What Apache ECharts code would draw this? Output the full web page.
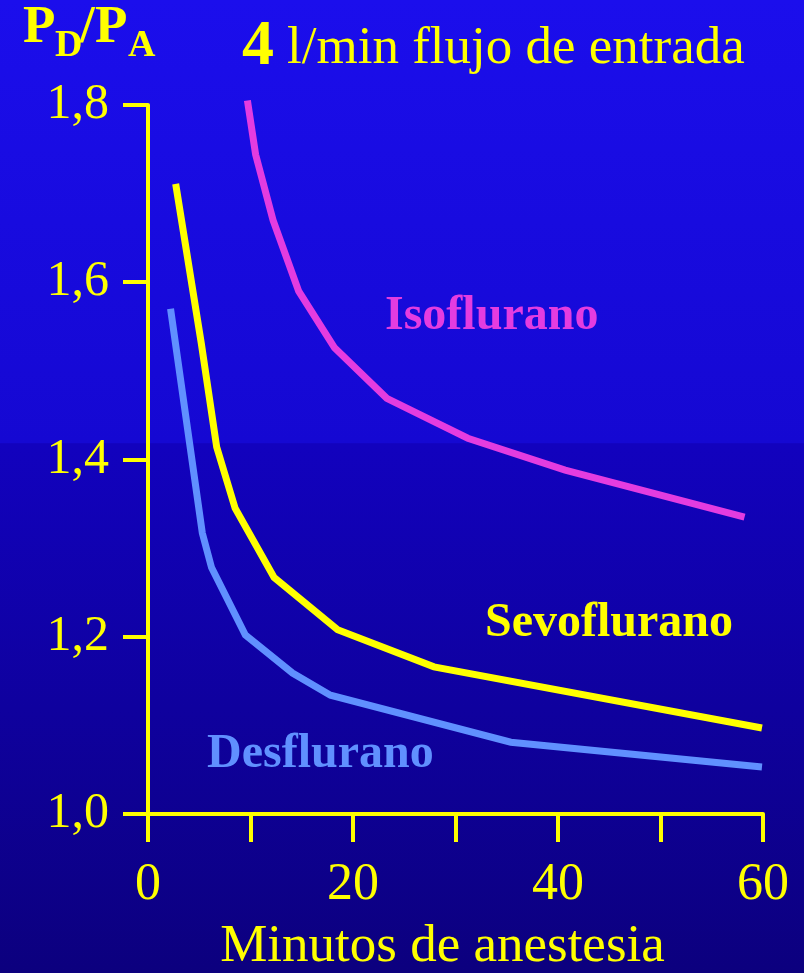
<!DOCTYPE html>
<html>
<head>
<meta charset="utf-8">
<script src="https://cdn.jsdelivr.net/npm/echarts@6/dist/echarts.min.js"></script>
<style>
  html, body { margin: 0; padding: 0; background: #0b0080; }
  #chart { width: 804px; height: 973px; }
</style>
</head>
<body>
<div id="chart"></div>
<script>
// ---- data ----
const isoMinutes  = [9.7, 10.5, 12.2, 14.7, 18.2, 23.3, 31.2, 40.7, 58.2];
const isoRatio    = [1.805, 1.744, 1.670, 1.590, 1.526, 1.469, 1.424, 1.388, 1.335];

const sevoMinutes = [2.7, 5.2, 6.7, 8.5, 12.3, 18.5, 27.9, 59.9];
const sevoRatio   = [1.711, 1.531, 1.414, 1.345, 1.267, 1.208, 1.166, 1.097];

const desMinutes  = [2.2, 5.3, 6.2, 9.5, 14.1, 17.8, 35.4, 59.9];
const desRatio    = [1.570, 1.317, 1.278, 1.202, 1.159, 1.134, 1.081, 1.053];

const xLabelValues = [0, 20, 40, 60];
const seriesNames  = ['Isoflurano', 'Sevoflurano', 'Desflurano'];

const YELLOW = '#ffff00';
const MAGENTA = '#e43ce0';
const LIGHTBLUE = '#6090ff';
const SERIF = '"Liberation Serif", "Times New Roman", serif';

function pairs(xs, ys) { return xs.map((x, i) => [x, ys[i]]); }

const chart = echarts.init(document.getElementById('chart'), null, { renderer: 'canvas' });

const lineStyleBase = { width: 7, cap: 'butt', join: 'miter' };

const option = {
  animation: false,
  backgroundColor: {
    type: 'linear', x: 0, y: 0, x2: 0, y2: 1,
    colorStops: [
      { offset: 0, color: '#1b0eec' },
      { offset: 0.455, color: '#1508d2' },
      { offset: 0.456, color: '#1202be' },
      { offset: 1, color: '#0c007e' }
    ]
  },
  grid: { left: 148, right: 41, top: 105, bottom: 159, containLabel: false, outerBoundsMode: 'none' },
  xAxis: {
    type: 'value',
    min: 0, max: 60, interval: 10,
    name: 'Minutos de anestesia',
    nameLocation: 'middle',
    nameGap: 107,
    nameTextStyle: { color: YELLOW, fontFamily: SERIF, fontSize: 53, padding: [0, 26, 0, 0] },
    axisLine: { show: true, onZero: false, lineStyle: { color: YELLOW, width: 4 } },
    axisTick: { show: true, inside: false, length: 28, lineStyle: { color: YELLOW, width: 4 } },
    axisLabel: {
      color: YELLOW, fontFamily: SERIF, fontSize: 52, margin: 45,
      formatter: v => xLabelValues.indexOf(v) >= 0 ? String(v) : ''
    },
    splitLine: { show: false }
  },
  yAxis: {
    type: 'value',
    min: 1.0, max: 1.8, interval: 0.2,
    axisLine: { show: true, onZero: false, lineStyle: { color: YELLOW, width: 4 } },
    axisTick: { show: true, inside: false, length: 25, lineStyle: { color: YELLOW, width: 4 } },
    axisLabel: {
      color: YELLOW, fontFamily: SERIF, fontSize: 50, margin: 39,
      formatter: v => v.toFixed(1).replace('.', ',')
    },
    splitLine: { show: false }
  },
  series: [
    { name: seriesNames[0], type: 'line', data: pairs(isoMinutes, isoRatio), showSymbol: false, symbol: 'none', clip: false,
      lineStyle: Object.assign({ color: MAGENTA }, lineStyleBase), itemStyle: { color: MAGENTA }, z: 3 },
    { name: seriesNames[1], type: 'line', data: pairs(sevoMinutes, sevoRatio), showSymbol: false, symbol: 'none', clip: false,
      lineStyle: Object.assign({ color: YELLOW }, lineStyleBase), itemStyle: { color: YELLOW }, z: 3 },
    { name: seriesNames[2], type: 'line', data: pairs(desMinutes, desRatio), showSymbol: false, symbol: 'none', clip: false,
      lineStyle: Object.assign({ color: LIGHTBLUE }, lineStyleBase), itemStyle: { color: LIGHTBLUE }, z: 3 }
  ],
  graphic: [
    // y-axis title P_D/P_A
    { type: 'text', left: 23, top: 2, style: { text: 'P', fill: YELLOW, font: 'bold 53px ' + SERIF } },
    { type: 'text', left: 55, top: 27, style: { text: 'D', fill: YELLOW, font: 'bold 38px ' + SERIF } },
    { type: 'text', left: 80, top: 2, style: { text: '/', fill: YELLOW, font: 'bold 53px ' + SERIF } },
    { type: 'text', left: 95, top: 2, style: { text: 'P', fill: YELLOW, font: 'bold 53px ' + SERIF } },
    { type: 'text', left: 128, top: 27, style: { text: 'A', fill: YELLOW, font: 'bold 38px ' + SERIF } },
    // chart title
    { type: 'text', left: 242, top: 15, style: { text: '4', fill: YELLOW, font: 'bold 64px ' + SERIF } },
    { type: 'text', left: 287, top: 23, style: { text: 'l/min flujo de entrada', fill: YELLOW, font: '53px ' + SERIF } },
    // series labels
    { type: 'text', left: 385, top: 293, style: { text: seriesNames[0], fill: MAGENTA, font: 'bold 48px ' + SERIF } },
    { type: 'text', left: 485, top: 600, style: { text: seriesNames[1], fill: YELLOW, font: 'bold 48px ' + SERIF } },
    { type: 'text', left: 207, top: 731, style: { text: seriesNames[2], fill: LIGHTBLUE, font: 'bold 48px ' + SERIF } }
  ]
};

chart.setOption(option);
</script>
</body>
</html>
